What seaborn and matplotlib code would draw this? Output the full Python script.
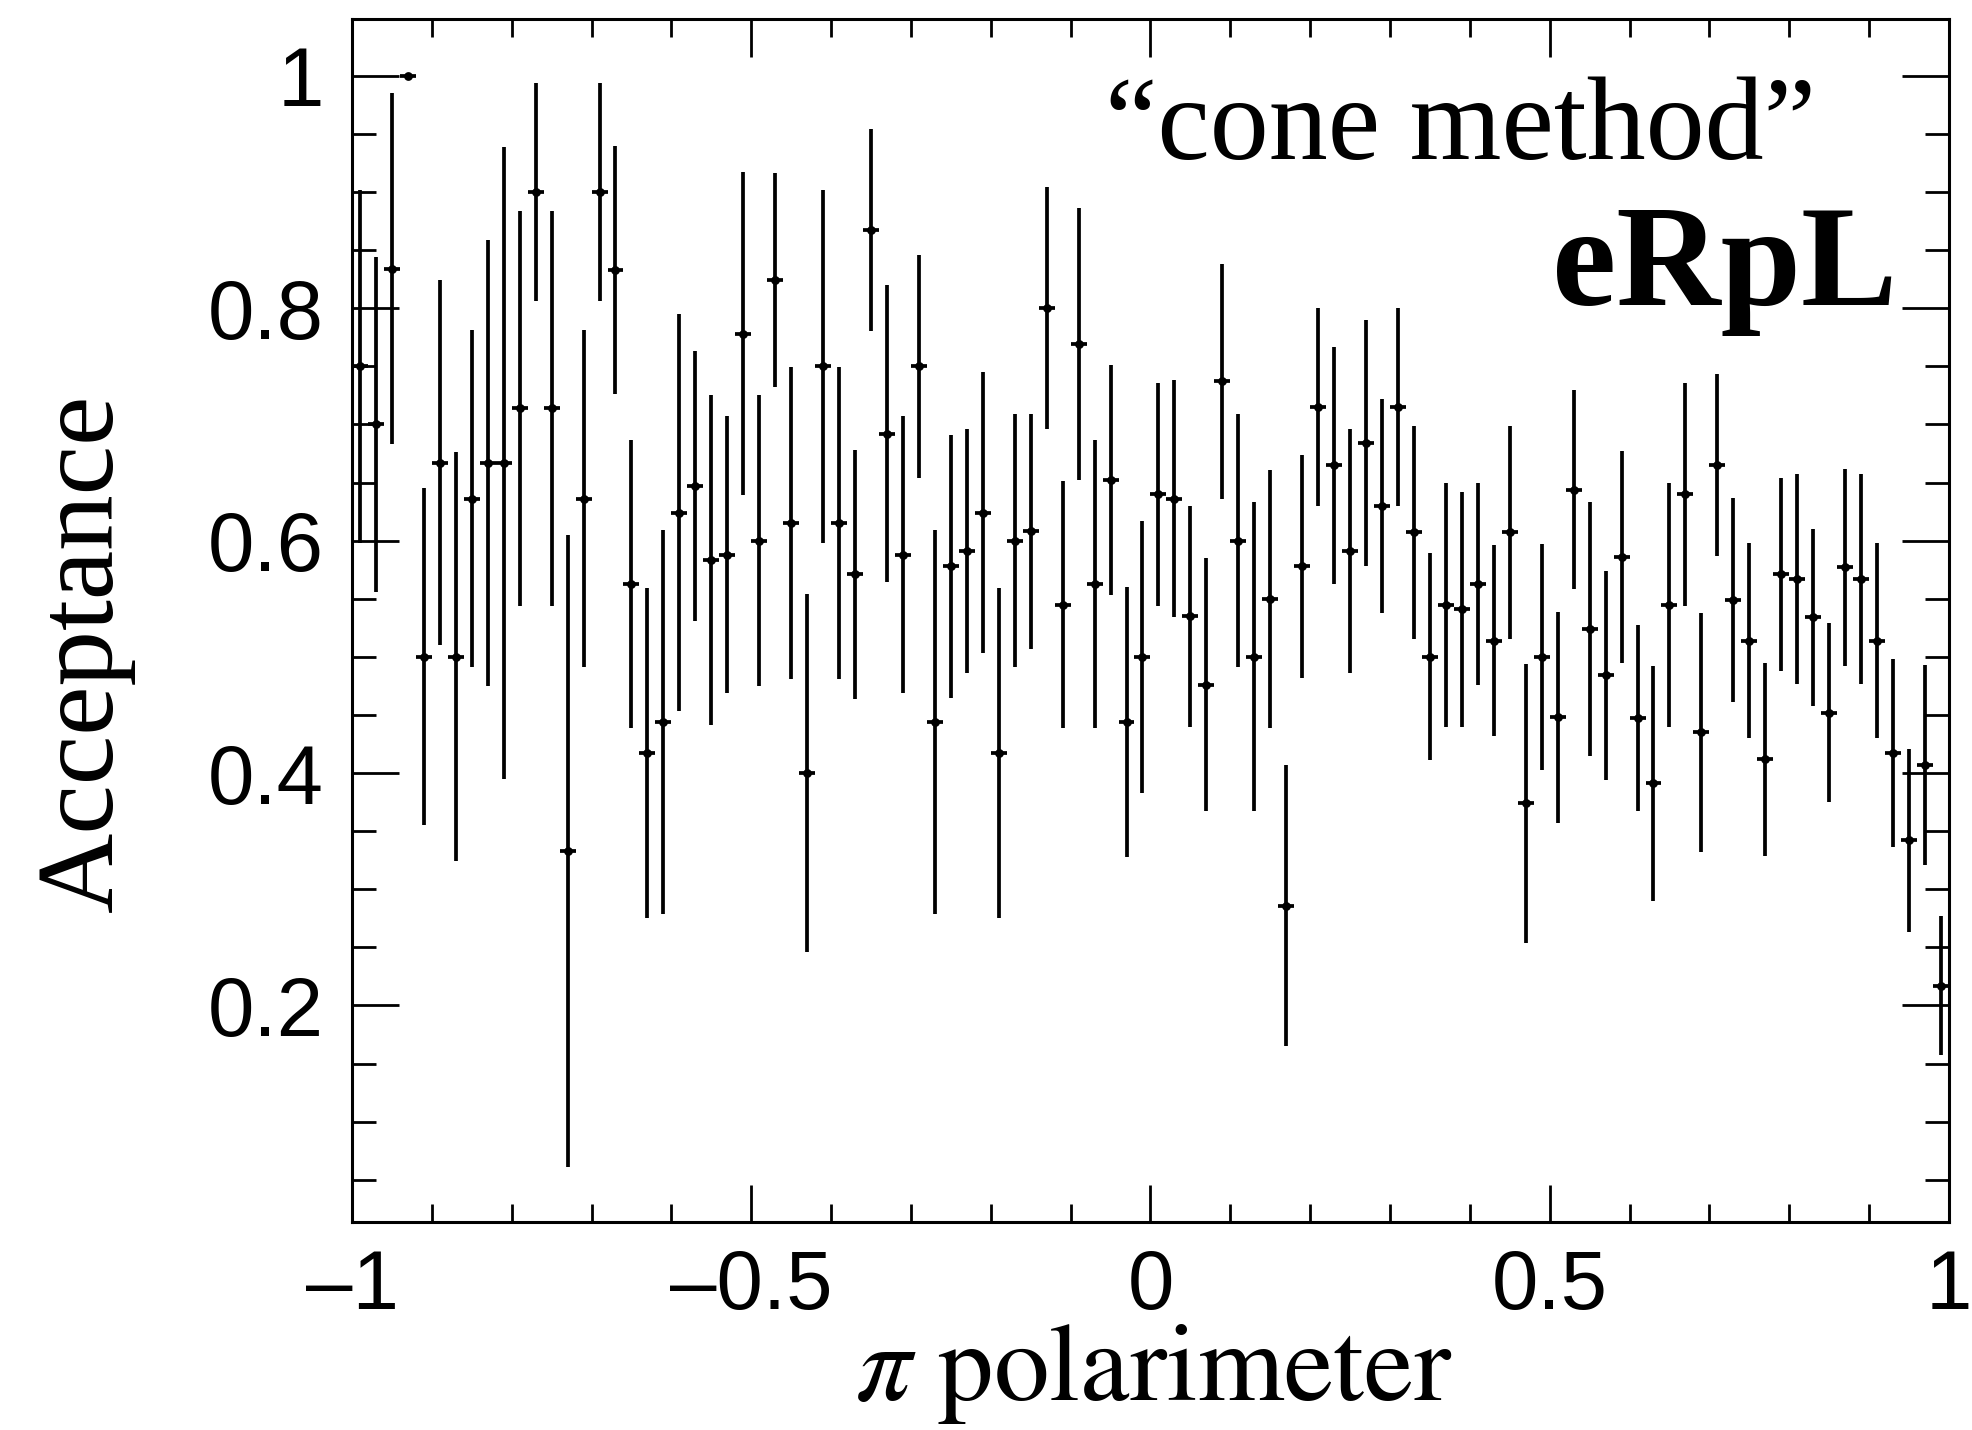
import matplotlib
matplotlib.use("Agg")
import matplotlib.pyplot as plt
import numpy as np
import pandas as pd
import seaborn as sns
from matplotlib.ticker import MultipleLocator, FuncFormatter

# bin centres of the pi polarimeter histogram (100 bins, -1..1)
bin_lo = -1.0
bin_hi = 1.0
n_bins = 100

acceptance = [
    0.750, 0.700, 0.834, 1.000, 0.500, 0.667, 0.500, 0.636, 0.667, 0.667,
    0.714, 0.900, 0.714, 0.333, 0.636, 0.900, 0.833, 0.5625, 0.417, 0.444,
    0.624, 0.647, 0.583, 0.588, 0.778, 0.600, 0.824, 0.615, 0.400, 0.750,
    0.615, 0.571, 0.867, 0.692, 0.588, 0.750, 0.444, 0.578, 0.591, 0.624,
    0.417, 0.600, 0.608, 0.800, 0.545, 0.769, 0.5625, 0.652, 0.444, 0.500,
    0.640, 0.636, 0.535, 0.476, 0.737, 0.600, 0.500, 0.550, 0.286, 0.578,
    0.715, 0.665, 0.591, 0.684, 0.630, 0.715, 0.607, 0.500, 0.545, 0.541,
    0.5625, 0.514, 0.607, 0.374, 0.500, 0.448, 0.644, 0.524, 0.484, 0.586,
    0.447, 0.391, 0.545, 0.640, 0.435, 0.665, 0.549, 0.514, 0.412, 0.571,
    0.567, 0.534, 0.452, 0.577, 0.567, 0.514, 0.417, 0.342, 0.407, 0.217,
]

acc_err = [
    0.152, 0.144, 0.151, 0.000, 0.145, 0.157, 0.176, 0.145, 0.192, 0.272,
    0.170, 0.094, 0.170, 0.272, 0.145, 0.094, 0.107, 0.124, 0.142, 0.165,
    0.171, 0.116, 0.142, 0.119, 0.139, 0.125, 0.092, 0.134, 0.154, 0.152,
    0.134, 0.107, 0.087, 0.128, 0.119, 0.096, 0.165, 0.113, 0.105, 0.121,
    0.142, 0.109, 0.101, 0.104, 0.106, 0.117, 0.124, 0.099, 0.116, 0.117,
    0.096, 0.102, 0.095, 0.109, 0.101, 0.109, 0.133, 0.111, 0.121, 0.096,
    0.085, 0.102, 0.105, 0.106, 0.092, 0.085, 0.092, 0.089, 0.105, 0.101,
    0.087, 0.082, 0.092, 0.120, 0.097, 0.091, 0.086, 0.109, 0.090, 0.091,
    0.080, 0.101, 0.105, 0.096, 0.103, 0.078, 0.088, 0.084, 0.083, 0.083,
    0.090, 0.076, 0.077, 0.085, 0.090, 0.084, 0.081, 0.079, 0.086, 0.060,
]

x_ticks = [-1, -0.5, 0, 0.5, 1]
y_ticks = [0.2, 0.4, 0.6, 0.8, 1.0]

edges = np.linspace(bin_lo, bin_hi, n_bins + 1)
centres = 0.5 * (edges[:-1] + edges[1:])
df = pd.DataFrame({"x": centres, "acc": acceptance, "err": acc_err})

sns.set_style("ticks")
plt.rcParams["font.family"] = ["Liberation Sans", "DejaVu Sans"]
plt.rcParams["mathtext.fontset"] = "stix"
plt.rcParams["text.color"] = "black"
plt.rcParams["xtick.color"] = "black"
plt.rcParams["ytick.color"] = "black"
plt.rcParams["axes.edgecolor"] = "black"

fig = plt.figure(figsize=(19.72, 14.30), dpi=100)
ax = fig.add_axes([0.1785, 0.1455, 0.8098, 0.8413])

# bin-width horizontal bars and binomial vertical errors
ax.errorbar(df["x"], df["acc"], xerr=0.01, yerr=df["err"], fmt="none",
            ecolor="black", elinewidth=2.7, capsize=0)
sns.scatterplot(data=df, x="x", y="acc", ax=ax, color="black", s=40,
                marker="o", edgecolor="black", linewidth=0, legend=False)

ax.set_xlim(-1, 1)
ax.set_ylim(0.0137, 1.049)
ax.set_xticks(x_ticks)
ax.set_yticks(y_ticks)
ax.xaxis.set_minor_locator(MultipleLocator(0.1))
ax.yaxis.set_minor_locator(MultipleLocator(0.05))
fmt = FuncFormatter(lambda v, p: f"{v:g}".replace("-", "\u2013"))
ax.xaxis.set_major_formatter(fmt)
ax.yaxis.set_major_formatter(fmt)

ax.tick_params(which="both", direction="in", top=True, right=True,
               width=2, color="black", labelcolor="black", labelsize=60)
ax.tick_params(axis="x", which="major", length=27, pad=19)
ax.tick_params(axis="x", which="minor", length=13)
ax.tick_params(axis="y", which="major", length=34, pad=20)
ax.tick_params(axis="y", which="minor", length=17)
for s in ax.spines.values():
    s.set_linewidth(2.2)
    s.set_color("black")

ax.set_xlabel("")
ax.set_ylabel("")

fig.text(0.043, 0.5434, "Acceptance", rotation=90, ha="center", va="center",
         family="Liberation Serif", fontsize=80)
# mathtext keeps the label box tight to the glyphs
fig.text(0.585, 0.003, r"$\pi\ \mathrm{polarimeter}$", ha="center",
         va="bottom", fontsize=80)

fig.text(0.921, 0.889, "\u201ccone method\u201d", ha="right", va="baseline",
         family="Liberation Serif", fontsize=85)
fig.text(0.962, 0.7867, "eRpL", ha="right", va="baseline",
         family="Liberation Serif", fontsize=104, weight="bold")

fig.savefig("out.png", dpi=100, facecolor="white")
